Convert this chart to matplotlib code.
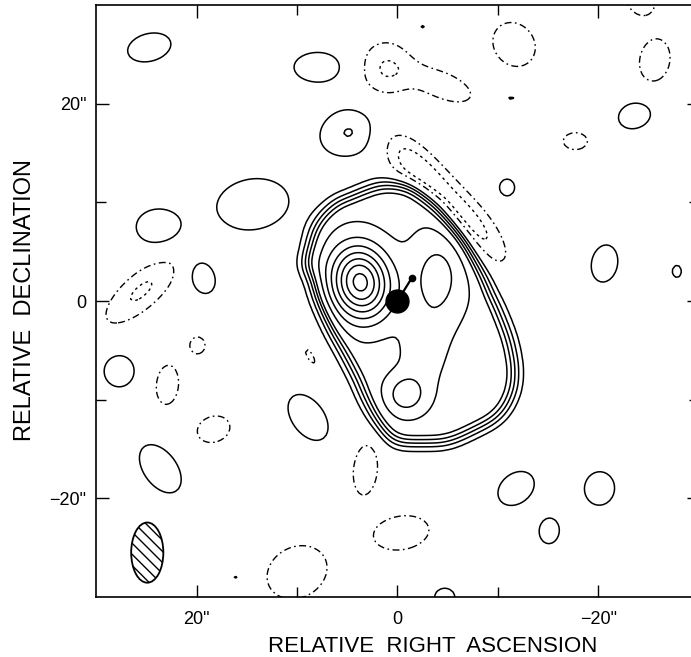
import numpy as np
import matplotlib
matplotlib.use('Agg')
import matplotlib.pyplot as plt
from matplotlib.patches import Ellipse

# Extended emission: union of three rounded boxes (x, y, half-sizes a/b, pa deg, squareness n),
# filled at env_peak and smoothed with a beam-sized gaussian
env_x = [-1.5, 2.0, 5.7]
env_y = [-1.3, -4.0, 5.9]
env_a = [13.3, 10.8, 4.2]
env_b = [7.9, 3.4, 2.4]
env_pa = [65, 67, -63]
env_n = [3.0, 4.0, 5.0]
env_peak = 6.3
env_smooth = 0.9

# Compact source components: x, y (arcsec), peak, sigma major, sigma minor, pa (deg)
src_x = [3.7, -3.95, -0.8, -2.6]
src_y = [1.9, 2.4, -9.5, -5.0]
src_amp = [13.5, 3.5, 3.84, 1.6]
src_maj = [2.55, 3.2, 1.4, 3.0]
src_min = [2.0, 1.95, 1.4, 1.6]
src_pa = [80, 90, 0, 95]

# Positive noise patches
pos_x = [24.7, 7.9, 4.6, 14.4, 23.8, 19.4, 27.7, 8.9, 23.6, -11.8, -20.1, -15.1,
         -20.6, -23.6, -10.9, -27.8, -4.7, -11.3, 16.1, -2.5]
pos_y = [25.7, 23.7, 17.2, 9.8, 7.5, 2.4, -7.1, -11.8, -17.0, -19.0, -19.0, -23.3,
         3.8, 18.8, 11.5, 3.0, -30.0, 20.5, -28.0, 27.8]
pos_amp = [1.85, 1.85, 2.12, 1.97, 1.85, 1.85, 1.85, 1.85, 1.85, 1.85, 1.85, 1.85,
           1.85, 1.85, 1.85, 1.5, 1.85, 1.4, 1.3, 1.3]
pos_maj = [1.98, 2.16, 2.6, 3.1, 1.98, 1.53, 1.44, 2.35, 2.48, 1.8, 1.53, 1.17,
           1.71, 1.49, 0.77, 0.68, 0.9, 0.45, 0.35, 0.3]
pos_min = [1.26, 1.35, 1.98, 2.2, 1.62, 1.08, 1.35, 1.45, 1.49, 1.35, 1.35, 0.9,
           1.17, 1.17, 0.68, 0.5, 0.8, 0.22, 0.25, 0.25]
pos_pa = [-15, 0, -20, -10, 0, 70, 90, 55, 55, -40, 95, 95,
          100, -20, 90, 90, 0, 0, 0, 0]

# Negative patches
neg_x = [1.2, -4.6, -11.6, -25.6, -24.2, -1.9, -7.1, -17.7, 25.5, 19.9, 22.9, 18.3,
         3.2, -0.4, 10.0, 8.7]
neg_y = [23.5, 21.8, 26.0, 24.4, 30.5, 13.4, 7.9, 16.2, 1.0, -4.5, -8.5, -13.0,
         -17.1, -23.5, -27.5, -5.6]
neg_amp = [-2.05, -1.75, -1.85, -1.85, -1.85, -2.6, -2.6, -1.85, -2.15, -1.85, -1.85, -1.85,
           -1.85, -1.85, -1.85, -1.3]
neg_maj = [2.2, 2.7, 2.1, 1.95, 1.4, 3.7, 3.7, 1.08, 3.6, 0.77, 1.8, 1.5,
           2.3, 2.48, 2.8, 1.2]
neg_min = [2.0, 1.2, 1.8, 1.35, 1.2, 1.4, 1.4, 0.77, 1.4, 0.68, 1.0, 1.17,
           1.08, 1.53, 2.3, 0.4]
neg_pa = [90, 23, 55, 100, 60, 49, 49, 0, -42, 90, 95, -20,
          95, -10, -30, 60]

pos_levels = [1, 2, 3, 4, 5, 7, 9, 11, 13, 15, 17, 19]
neg_levels = [-2, -1]

# optical nucleus and the small knot
nuc_x, nuc_y = [0.0], [0.0]
knot_x, knot_y = [-1.4], [2.3]

# restoring beam
beam_x, beam_y = 24.9, -25.5
beam_w, beam_h, beam_pa = 3.2, 6.1, 0


def rotate(X, Y, x0, y0, pa):
    t = np.radians(pa)
    u = (X - x0) * np.cos(t) + (Y - y0) * np.sin(t)
    v = -(X - x0) * np.sin(t) + (Y - y0) * np.cos(t)
    return u, v


def gauss(X, Y, x0, y0, amp, smaj, smin, pa):
    u, v = rotate(X, Y, x0, y0, pa)
    return amp * np.exp(-0.5 * ((u / smaj) ** 2 + (v / smin) ** 2))


def inside(X, Y, x0, y0, a, b, pa, n):
    u, v = rotate(X, Y, x0, y0, pa)
    return (np.abs(u / a) ** n + np.abs(v / b) ** n) < 1.0


def smooth(Z, s):
    k = np.arange(-int(4 * s) - 1, int(4 * s) + 2)
    g = np.exp(-0.5 * (k / s) ** 2)
    g /= g.sum()
    Z = np.apply_along_axis(lambda r: np.convolve(r, g, mode='same'), 0, Z)
    Z = np.apply_along_axis(lambda r: np.convolve(r, g, mode='same'), 1, Z)
    return Z


step = 0.3
xs = np.arange(-34, 34.01, step)
ys = np.arange(-34, 34.01, step)
X, Y = np.meshgrid(xs, ys)

mask = np.zeros(X.shape, dtype=bool)
for i in range(len(env_x)):
    mask |= inside(X, Y, env_x[i], env_y[i], env_a[i], env_b[i], env_pa[i], env_n[i])
Z = env_peak * smooth(mask.astype(float), env_smooth / step)

for i in range(len(src_x)):
    Z += gauss(X, Y, src_x[i], src_y[i], src_amp[i], src_maj[i], src_min[i], src_pa[i])
for i in range(len(pos_x)):
    Z += gauss(X, Y, pos_x[i], pos_y[i], pos_amp[i], pos_maj[i], pos_min[i], pos_pa[i])
for i in range(len(neg_x)):
    Z += gauss(X, Y, neg_x[i], neg_y[i], neg_amp[i], neg_maj[i], neg_min[i], neg_pa[i])

fig = plt.figure(figsize=(6.91, 6.57), dpi=100)
ax = fig.add_axes([96 / 691, 60 / 657, 603 / 691, 592 / 657])

ax.contour(X, Y, Z, levels=pos_levels, colors='black', linewidths=1.1, linestyles='solid')
ax.contour(X, Y, Z, levels=neg_levels, colors='black', linewidths=1.0,
           linestyles=[(0, (2.0, 2.5)), (0, (5, 2.5, 1.2, 2.5))])

ax.plot([nuc_x[0], knot_x[0]], [nuc_y[0], knot_y[0]], color='black', lw=1.6)
ax.plot(nuc_x, nuc_y, 'o', color='black', ms=16.5)
ax.plot(knot_x, knot_y, 'o', color='black', ms=4.5)

beam = Ellipse((beam_x, beam_y), beam_w, beam_h, angle=beam_pa, facecolor='white',
               edgecolor='black', lw=1.3, hatch='\\\\\\')
ax.add_patch(beam)

ax.set_xlim(30, -30)
ax.set_ylim(-30, 30)
ax.set_xticks([20, 0, -20])
ax.set_xticklabels(['20"', '0', '\u221220"'])
ax.set_yticks([20, 0, -20])
ax.set_yticklabels(['20"', '0', '\u221220"'])
ax.set_xticks([10, -10], minor=True)
ax.set_yticks([10, -10], minor=True)
ax.tick_params(which='both', direction='in', top=True, right=True, width=1.0,
               labelsize=13)
ax.tick_params(axis='x', pad=10)
ax.tick_params(axis='y', pad=7)
ax.tick_params(which='major', length=9)
ax.tick_params(which='minor', length=7)
for lab in ax.get_xticklabels() + ax.get_yticklabels():
    lab.set_family('Liberation Sans')
for s in ax.spines.values():
    s.set_linewidth(1.2)

fig.text(433 / 691, 1 - 646 / 657, 'RELATIVE  RIGHT  ASCENSION', ha='center', va='center',
         fontsize=16, family='Liberation Sans')
fig.text(25 / 691, 1 - 300 / 657, 'RELATIVE  DECLINATION', ha='center', va='center',
         rotation=90, fontsize=17, family='Liberation Sans')

fig.savefig('out.png', dpi=100)
